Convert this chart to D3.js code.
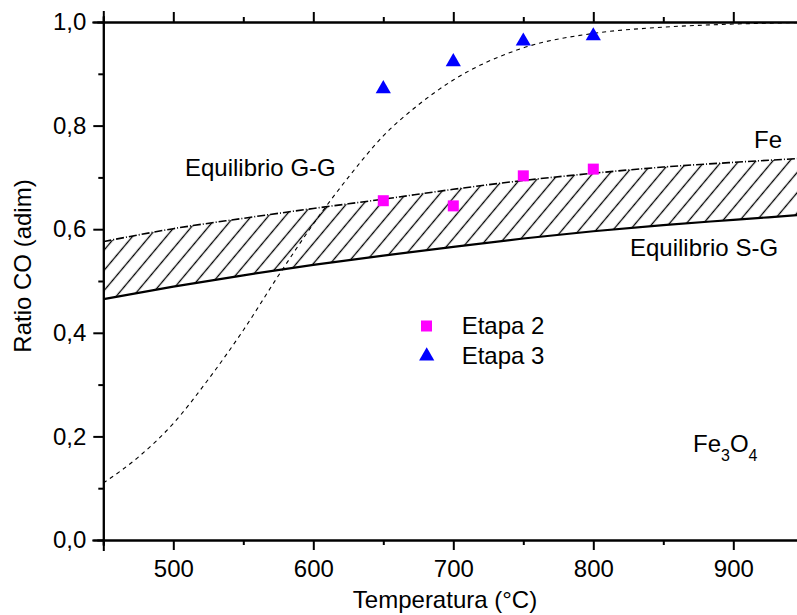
<!DOCTYPE html>
<html>
<head>
<meta charset="utf-8">
<script src="https://cdn.jsdelivr.net/npm/d3@7"></script>
<style>
    body { margin: 0; background: #fff; }
    svg { display: block; font-family: 'Liberation Sans', Arial, sans-serif; }
    .axis path, .axis line { stroke: #000; stroke-width: 2; }
    .axis text { font-size: 24px; fill: #000; font-family: 'Liberation Sans', Arial, sans-serif; }
</style>
</head>
<body>
<div id="chart"></div>
<script>
'use strict';

const bandTemps = [450, 500, 550, 600, 650, 700, 750, 800, 850, 900, 950];
// Fe / Fe3O4 boundary (upper, dashed) and S-G equilibrium (lower, solid)
const bandUpper = [0.576, 0.601, 0.621, 0.640, 0.658, 0.677, 0.694, 0.708, 0.720, 0.729, 0.737];
const bandLower = [0.465, 0.489, 0.511, 0.531, 0.549, 0.566, 0.582, 0.596, 0.608, 0.618, 0.628];

// G-G equilibrium curve (thin dashed)
const ggTemps = [450, 475, 500, 525, 550, 575, 600, 625, 650, 675, 700, 750, 800, 850, 900, 950];
const ggRatio = [0.11, 0.16, 0.225, 0.31, 0.405, 0.51, 0.61, 0.70, 0.78, 0.84, 0.888, 0.95, 0.978, 0.99, 0.996, 0.999];

// Measured points
const stageTemps = [650, 700, 750, 800];
const etapa2 = [0.655, 0.645, 0.703, 0.716];
const etapa3 = [0.871, 0.923, 0.963, 0.973];

// Ticks
const xMajor = [500, 600, 700, 800, 900];
const xMinor = [450, 550, 650, 750, 850];
const yMajor = [0, 0.2, 0.4, 0.6, 0.8, 1.0];
const yTickLabels = ['0,0', '0,2', '0,4', '0,6', '0,8', '1,0'];
const yMinor = [0.1, 0.3, 0.5, 0.7, 0.9];

const width = 797, height = 615;
const margins = { left: 103.3, right: -6.3, top: 22, bottom: 75 };

const svg = d3.select('#chart').append('svg')
    .attr('width', width)
    .attr('height', height);

const scaleX = d3.scaleLinear()
    .domain([450, 950])
    .range([margins.left, width - margins.right]);

const scaleY = d3.scaleLinear()
    .domain([0, 1])
    .range([height - margins.bottom, margins.top]);

// hatch pattern ("/" lines) and clip
const defs = svg.append('defs');
const pat = defs.append('pattern')
    .attr('id', 'hatch')
    .attr('patternUnits', 'userSpaceOnUse')
    .attr('width', 13)
    .attr('height', 13)
    .attr('patternTransform', 'rotate(40)');
pat.append('line')
    .attr('x1', 6.5).attr('y1', -1)
    .attr('x2', 6.5).attr('y2', 14)
    .attr('stroke', '#000')
    .attr('stroke-width', 1.3);

defs.append('clipPath').attr('id', 'plotclip')
    .append('rect')
    .attr('x', scaleX(450))
    .attr('y', scaleY(1))
    .attr('width', scaleX(950) - scaleX(450))
    .attr('height', scaleY(0) - scaleY(1));

const plot = svg.append('g').attr('clip-path', 'url(#plotclip)');

const bandData = bandTemps.map((t, i) => ({ t, lo: bandLower[i], hi: bandUpper[i] }));

const area = d3.area()
    .x(d => scaleX(d.t))
    .y0(d => scaleY(d.lo))
    .y1(d => scaleY(d.hi))
    .curve(d3.curveMonotoneX);

plot.append('path')
    .datum(bandData)
    .attr('d', area)
    .attr('fill', 'url(#hatch)');

const line = d3.line().curve(d3.curveMonotoneX);

plot.append('path')
    .attr('d', line(bandData.map(d => [scaleX(d.t), scaleY(d.hi)])))
    .attr('fill', 'none')
    .attr('stroke', '#000')
    .attr('stroke-width', 1.6)
    .attr('stroke-dasharray', '8,2,1,2');

plot.append('path')
    .attr('d', line(bandData.map(d => [scaleX(d.t), scaleY(d.lo)])))
    .attr('fill', 'none')
    .attr('stroke', '#000')
    .attr('stroke-width', 2.2);

plot.append('path')
    .attr('d', line(ggTemps.map((t, i) => [scaleX(t), scaleY(ggRatio[i])])))
    .attr('fill', 'none')
    .attr('stroke', '#000')
    .attr('stroke-width', 1.1)
    .attr('stroke-dasharray', '4,4');

// markers
svg.append('g').selectAll('rect.e2')
    .data(stageTemps.map((t, i) => ({ t, v: etapa2[i] })))
    .join('rect')
    .classed('e2', true)
    .attr('x', d => scaleX(d.t) - 5.5)
    .attr('y', d => scaleY(d.v) - 5.5)
    .attr('width', 11)
    .attr('height', 11)
    .attr('fill', '#ff00ff');

const tri = d3.symbol().type(d3.symbolTriangle).size(100);

svg.append('g').selectAll('path.e3')
    .data(stageTemps.map((t, i) => ({ t, v: etapa3[i] })))
    .join('path')
    .classed('e3', true)
    .attr('d', tri)
    .attr('transform', d => `translate(${scaleX(d.t)}, ${scaleY(d.v)})`)
    .attr('fill', '#0000ff');

// axes
const x0 = scaleY(0), y1 = scaleY(1);

svg.append('g').classed('axis', true)
    .attr('transform', `translate(0, ${x0})`)
    .call(d3.axisBottom(scaleX).tickValues(xMajor).tickSize(10).tickPadding(10).tickFormat(d3.format('d')));
svg.append('g').classed('axis', true)
    .attr('transform', `translate(0, ${x0})`)
    .call(d3.axisBottom(scaleX).tickValues(xMinor).tickSize(5).tickFormat(''));

svg.append('g').classed('axis', true)
    .attr('transform', `translate(0, ${y1})`)
    .call(d3.axisTop(scaleX).tickValues(xMajor).tickSize(10).tickFormat(''));
svg.append('g').classed('axis', true)
    .attr('transform', `translate(0, ${y1})`)
    .call(d3.axisTop(scaleX).tickValues(xMinor).tickSize(5).tickFormat(''));

svg.append('g').classed('axis', true)
    .attr('transform', `translate(${scaleX(450)}, 0)`)
    .call(d3.axisLeft(scaleY).tickValues(yMajor).tickSize(10).tickPadding(7)
        .tickFormat((d, i) => yTickLabels[i]));
svg.append('g').classed('axis', true)
    .attr('transform', `translate(${scaleX(450)}, 0)`)
    .call(d3.axisLeft(scaleY).tickValues(yMinor).tickSize(5).tickFormat(''));

svg.selectAll('.axis path.domain').attr('stroke-linecap', 'square');

// axis titles
svg.append('text')
    .attr('x', 445)
    .attr('y', 608)
    .attr('text-anchor', 'middle')
    .style('font-size', '24px')
    .text('Temperatura (°C)');

svg.append('text')
    .attr('transform', 'translate(31, 266) rotate(-90)')
    .attr('text-anchor', 'middle')
    .style('font-size', '24px')
    .text('Ratio CO (adim)');

// annotations
const notes = [
    { x: 185, y: 176, text: 'Equilibrio G-G' },
    { x: 754, y: 148, text: 'Fe' },
    { x: 630, y: 256, text: 'Equilibrio S-G' }
];
svg.append('g').selectAll('text')
    .data(notes)
    .join('text')
    .attr('x', d => d.x)
    .attr('y', d => d.y)
    .style('font-size', '24px')
    .text(d => d.text);

const fe3o4 = svg.append('text')
    .attr('x', 693)
    .attr('y', 452)
    .style('font-size', '24px');
fe3o4.append('tspan').text('Fe');
fe3o4.append('tspan').attr('dy', 9).style('font-size', '16px').text('3');
fe3o4.append('tspan').attr('dy', -9).text('O');
fe3o4.append('tspan').attr('dy', 9).style('font-size', '16px').text('4');

// legend
const legend = svg.append('g');
legend.append('rect')
    .attr('x', 421).attr('y', 320.5)
    .attr('width', 11).attr('height', 11)
    .attr('fill', '#ff00ff');
legend.append('path')
    .attr('d', tri)
    .attr('transform', 'translate(426.7, 356)')
    .attr('fill', '#0000ff');
legend.append('text')
    .attr('x', 461.7).attr('y', 334.3)
    .style('font-size', '24px')
    .text('Etapa 2');
legend.append('text')
    .attr('x', 461.7).attr('y', 364.3)
    .style('font-size', '24px')
    .text('Etapa 3');
</script>
</body>
</html>
